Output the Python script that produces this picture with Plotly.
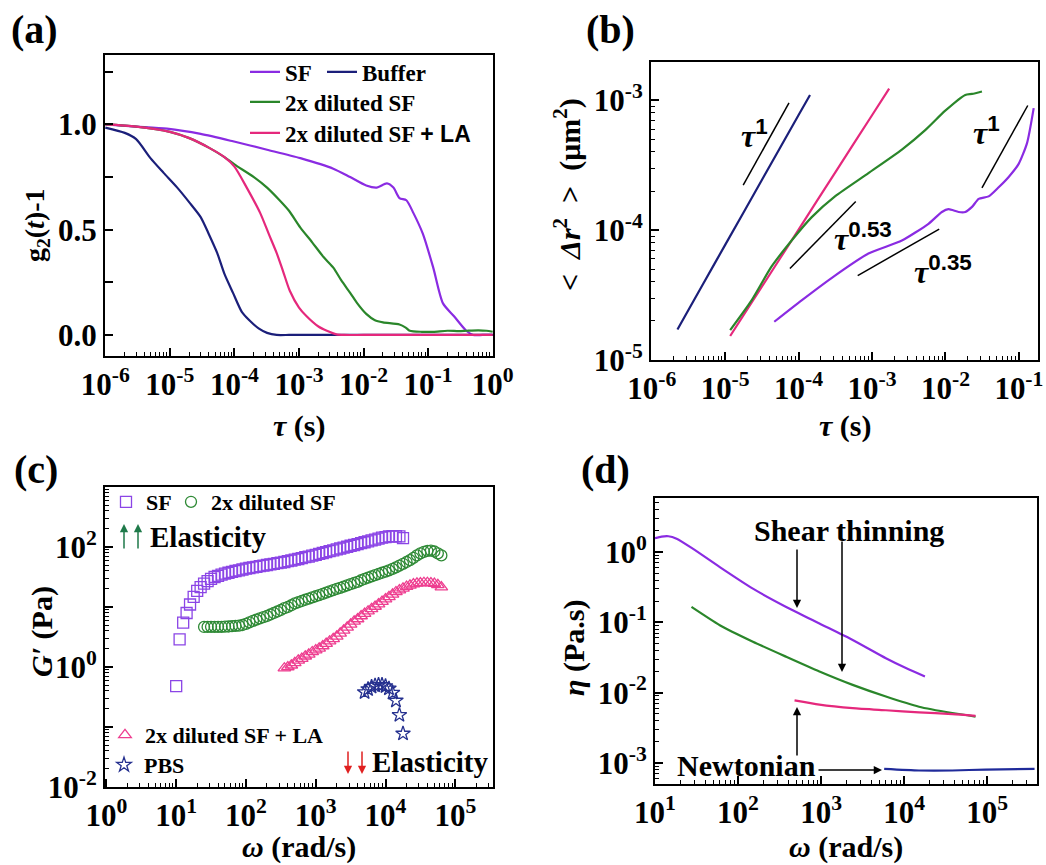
import plotly.graph_objects as go

W, H = 1046, 865
SERIF = "Liberation Serif"
SANS = "Liberation Sans"
NB = "\u00a0"


def fx(px):
    return px / W


def fy(py):
    return 1 - py / H


# ---------------- (a) intensity autocorrelation g2(t)-1 ----------------
tau_a_sf = [1e-6, 3e-6, 9e-6, 3e-5, 9.5e-5, 3.2e-4, 1.05e-3, 3.4e-3, 6.2e-3, 1.1e-2,
            1.6e-2, 2.3e-2, 2.9e-2, 3.6e-2, 4.6e-2, 5.9e-2, 8.3e-2, 0.12, 0.17, 0.25,
            0.39, 0.5, 0.7, 1.0]
g2_sf = [1.0, 0.99, 0.98, 0.955, 0.92, 0.88, 0.84, 0.79, 0.75, 0.71,
         0.70, 0.72, 0.70, 0.65, 0.64, 0.58, 0.48, 0.32, 0.15, 0.09,
         0.02, 0.0, 0.0, 0.0]

tau_a_buffer = [1e-6, 2e-6, 3e-6, 5e-6, 8e-6, 1.3e-5, 2e-5, 3e-5, 4e-5, 5.4e-5, 7e-5,
                9.5e-5, 1.3e-4, 1.7e-4, 2.4e-4, 3.2e-4, 4.5e-4, 7e-4, 1e-3, 1e-2, 1e-1, 1.0]
g2_buffer = [0.985, 0.96, 0.93, 0.84, 0.77, 0.70, 0.63, 0.56, 0.48, 0.39, 0.29,
             0.20, 0.11, 0.07, 0.03, 0.01, 0.0, 0.0, 0.0, 0.0, 0.0, 0.0]

tau_a_dil = [1e-6, 3e-6, 1e-5, 2e-5, 4e-5, 7e-5, 1e-4, 2e-4, 3.2e-4, 5e-4, 7e-4,
             1.05e-3, 1.6e-3, 2.4e-3, 3.4e-3, 4.5e-3, 6.2e-3, 8e-3, 1.1e-2, 1.5e-2,
             2e-2, 3.6e-2, 4.5e-2, 5.2e-2, 8e-2, 0.12, 0.2, 0.3, 0.4, 0.6, 0.8, 1.0]
g2_dil = [1.0, 0.99, 0.965, 0.935, 0.89, 0.845, 0.81, 0.75, 0.70, 0.64, 0.59,
          0.51, 0.44, 0.37, 0.32, 0.26, 0.20, 0.15, 0.10, 0.07,
          0.06, 0.05, 0.035, 0.02, 0.015, 0.015, 0.02, 0.018, 0.02, 0.022, 0.02, 0.015]

tau_a_la = [1e-6, 3e-6, 1e-5, 2e-5, 4e-5, 7e-5, 1e-4, 1.55e-4, 2.5e-4, 3.4e-4, 4.5e-4,
            5.7e-4, 7.2e-4, 1e-3, 1.3e-3, 2e-3, 2.7e-3, 3.8e-3, 5e-3, 1e-2, 1e-1, 1.0]
g2_la = [1.0, 0.99, 0.965, 0.935, 0.89, 0.845, 0.80, 0.70, 0.58, 0.48, 0.39,
         0.30, 0.21, 0.13, 0.09, 0.04, 0.02, 0.003, 0.0, 0.0, 0.0, 0.0]

# ---------------- (b) mean squared displacement ----------------
tau_b_buffer = [2.24e-6, 5.0e-6, 1.0e-5, 3.16e-5, 1.0e-4, 1.43e-4]
msd_buffer = [1.72e-5, 3.85e-5, 7.7e-5, 2.43e-4, 7.7e-4, 1.10e-3]

tau_b_la = [1.17e-5, 3.16e-5, 1.0e-4, 3.16e-4, 1.0e-3, 1.71e-3]
msd_la = [1.53e-5, 3.67e-5, 1.01e-4, 2.79e-4, 7.67e-4, 1.23e-3]

tau_b_dil = [1.17e-5, 2.29e-5, 4.29e-5, 8.04e-5, 1.51e-4, 3.13e-4, 8.93e-4, 2.55e-3,
             5.30e-3, 9.93e-3, 1.86e-2, 2.30e-2, 3.14e-2]
msd_dil = [1.70e-5, 2.88e-5, 5.25e-5, 8.32e-5, 1.26e-4, 1.82e-4, 2.75e-4, 4.17e-4,
           5.89e-4, 8.32e-4, 1.10e-3, 1.12e-3, 1.17e-3]

tau_b_sf = [4.66e-5, 1.10e-4, 3.13e-4, 8.93e-4, 2.55e-3, 5.87e-3, 8.93e-3, 1.10e-2,
            1.51e-2, 1.86e-2, 2.30e-2, 2.83e-2, 3.87e-2, 5.30e-2, 7.26e-2, 9.93e-2,
            0.129, 0.159]
msd_sf = [1.97e-5, 2.88e-5, 4.47e-5, 6.61e-5, 8.32e-5, 1.12e-4, 1.38e-4, 1.45e-4,
          1.38e-4, 1.38e-4, 1.51e-4, 1.74e-4, 1.82e-4, 2.14e-4, 2.57e-4, 3.24e-4,
          4.68e-4, 8.71e-4]

# power-law guide segments (tau, msd) and their exponents
guide_tau = [[1.76e-5, 7.40e-5], [7.62e-5, 6.0e-4], [6.38e-4, 8.22e-3], [3.14e-2, 0.132]]
guide_msd = [[2.22e-4, 9.55e-4], [5.07e-5, 1.66e-4], [4.47e-5, 1.02e-4], [2.12e-4, 9.12e-4]]
guide_labels = ["1", "0.53", "0.35", "1"]
guide_label_pos = [(-4.595, -3.256), (-3.117, -4.05), (-2.03, -4.31), (-1.435, -3.24)]

# ---------------- (c) storage modulus G' ----------------
omega_sweep = [10.0, 11.2, 12.6, 14.1, 15.8, 17.8, 20.0, 22.4, 25.1, 28.2,
               31.6, 35.5, 39.8, 44.7, 50.1, 56.2, 63.1, 70.8, 79.4, 89.1,
               100, 112, 126, 141, 158, 178, 200, 224, 251, 282,
               316, 355, 398, 447, 501, 562, 631, 708, 794, 891,
               1000, 1120, 1260, 1410, 1580, 1780, 2000, 2240, 2510, 2820,
               3160, 3550, 3980, 4470, 5010, 5620, 6310, 7080, 7940, 8910,
               10000, 11200, 12600, 14100, 15800, 17800, 20000, 22400, 25100, 28200,
               31600, 35500, 39800, 44700, 50100, 56200, 63100]

gp_sf = [0.48, 2.88, 5.50, 7.94, 11.0, 14.8, 18.6, 21.4, 24.5, 26.9,
         29.5, 31.6, 33.1, 34.7, 35.9, 37.2, 38.5, 39.8, 40.7, 42.2,
         43.7, 44.7, 45.7, 46.8, 47.9, 49.0, 50.1, 51.3, 52.5, 53.7,
         55.0, 56.2, 58.2, 59.6, 61.7, 63.1, 65.3, 67.6, 69.2, 71.6,
         74.1, 76.7, 79.4, 82.2, 85.1, 88.1, 91.2, 94.4, 97.7, 101,
         105, 108, 112, 116, 120, 124, 129, 133, 138, 143,
         146, 150, 151, 151, 150, 141]
gp_sf_start = 0

gp_dil = [4.65, 4.66, 4.68, 4.68, 4.68, 4.68, 4.70, 4.73, 4.79, 4.84,
          4.90, 5.01, 5.25, 5.56, 5.89, 6.17, 6.46, 6.76, 7.08, 7.50,
          7.94, 8.41, 8.91, 9.55, 10.0, 10.7, 11.5, 12.0, 12.6, 13.2,
          13.8, 14.5, 15.1, 15.8, 16.6, 17.4, 18.2, 19.1, 20.0, 20.9,
          21.9, 22.9, 24.0, 25.1, 26.3, 27.9, 29.5, 30.9, 32.4, 33.9,
          35.5, 37.2, 38.9, 40.7, 43.2, 45.7, 49.0, 52.5, 56.2, 60.3,
          66.1, 72.4, 78.5, 83.2, 86.1, 87.1, 84.1, 78.5, 72.4]
gp_dil_start = 8

gp_la = [0.955, 1.00, 1.07, 1.17, 1.29, 1.38, 1.51, 1.62, 1.78, 1.91,
         2.04, 2.24, 2.45, 2.69, 2.95, 3.24, 3.63, 4.07, 4.57, 5.13,
         5.75, 6.31, 7.08, 7.76, 8.51, 9.33, 10.2, 11.2, 12.3, 13.5,
         14.8, 16.2, 17.8, 19.1, 20.4, 21.9, 22.9, 24.0, 24.8, 25.1,
         25.4, 25.4, 25.1, 24.5, 23.4, 21.4]
gp_la_start = 31

gp_pbs = [0.380, 0.427, 0.468, 0.490, 0.501, 0.501, 0.479, 0.437, 0.372, 0.275, 0.158, 0.0776]
gp_pbs_start = 54

# ---------------- (d) complex viscosity ----------------
omega_d_sf = [10, 12.0, 14.5, 18.2, 28.8, 60.3, 151, 380, 955, 2400, 6030, 10500, 17800]
eta_sf = [1.58, 1.66, 1.68, 1.55, 1.11, 0.612, 0.302, 0.166, 0.0964, 0.0562, 0.0309, 0.0224, 0.0170]

omega_d_dil = [27.5, 60.3, 151, 380, 955, 2400, 6030, 15100, 38000, 72400]
eta_dil = [0.166, 0.0912, 0.0531, 0.0324, 0.0200, 0.0129, 0.00881, 0.00631, 0.00513, 0.00457]

omega_d_la = [479, 955, 2400, 6030, 15100, 38000, 72400]
eta_la = [0.00776, 0.00676, 0.00603, 0.00562, 0.00525, 0.00495, 0.00468]

omega_d_pbs = [5750, 15100, 38000, 95500, 372000]
eta_pbs = [0.000822, 0.000780, 0.000780, 0.000805, 0.000822]

# ---------------- colours ----------------
C_SF = "#8a2be2"
C_DIL = "#2a862a"
C_LA = "#e5287c"
C_BUF = "#1b1f7a"

fig = go.Figure()

# (a)
for name, t, g, col, leg in [
    ("SF", tau_a_sf, g2_sf, C_SF, "legend"),
    ("Buffer", tau_a_buffer, g2_buffer, C_BUF, "legend2"),
    ("2x diluted SF", tau_a_dil, g2_dil, C_DIL, "legend3"),
    ("2x diluted SF <span style='font-family:Liberation Sans'>+ LA</span>", tau_a_la, g2_la, C_LA, "legend4"),
]:
    fig.add_trace(go.Scatter(x=t, y=g, mode="lines", name=name, legend=leg,
                             line=dict(color=col, width=2.2, shape="spline", smoothing=0.7),
                             xaxis="x", yaxis="y"))

# (b)
for t, m, col in [(tau_b_buffer, msd_buffer, C_BUF), (tau_b_la, msd_la, C_LA),
                  (tau_b_dil, msd_dil, C_DIL), (tau_b_sf, msd_sf, C_SF)]:
    fig.add_trace(go.Scatter(x=t, y=m, mode="lines", showlegend=False,
                             line=dict(color=col, width=2.2, shape="spline", smoothing=0.6),
                             xaxis="x2", yaxis="y2"))
for t, m in zip(guide_tau, guide_msd):
    fig.add_trace(go.Scatter(x=t, y=m, mode="lines", showlegend=False,
                             line=dict(color="black", width=1.5), xaxis="x2", yaxis="y2"))

# (c)
for name, vals, start, col, sym, leg in [
    ("SF", gp_sf, gp_sf_start, "#8b45e6", "square-open", "legend5"),
    ("2x diluted SF", gp_dil, gp_dil_start, "#2f8a36", "circle-open", "legend6"),
    ("2x diluted SF + LA", gp_la, gp_la_start, "#ee3e90", "triangle-up-open", "legend7"),
    ("PBS", gp_pbs, gp_pbs_start, "#25308f", "star-open", "legend8"),
]:
    fig.add_trace(go.Scatter(x=omega_sweep[start:start + len(vals)], y=vals, mode="markers",
                             name=name, legend=leg,
                             marker=dict(symbol=sym, size=11, color=col, line=dict(width=1.3, color=col)),
                             xaxis="x3", yaxis="y3"))

# (d)
for w, e, col in [(omega_d_sf, eta_sf, C_SF), (omega_d_dil, eta_dil, C_DIL),
                  (omega_d_la, eta_la, C_LA), (omega_d_pbs, eta_pbs, "#1f2a9a")]:
    fig.add_trace(go.Scatter(x=w, y=e, mode="lines", showlegend=False,
                             line=dict(color=col, width=2.2, shape="spline", smoothing=0.6),
                             xaxis="x4", yaxis="y4"))

TICKFONT = dict(family=SERIF, size=31, color="black", weight="bold")
FRAME = dict(showline=True, linecolor="black", linewidth=2, mirror=True,
             ticks="inside", ticklen=8, tickwidth=1.5, tickcolor="black",
             showgrid=False, zeroline=False, tickfont=TICKFONT, automargin=False)
MINOR = dict(ticks="inside", ticklen=4, tickwidth=1, tickcolor="black", showgrid=False, dtick="D1")


def pow_labels(exps, show=None):
    out = []
    for e in exps:
        if show is None or e in show:
            out.append("10<sup>%d</sup>" % e)
        else:
            out.append("")
    return out


def log_axis(rng, exps, domain, anchor, show=None):
    return dict(type="log", range=rng, domain=domain, anchor=anchor, tickmode="array",
                tickvals=[10.0 ** e for e in exps], ticktext=pow_labels(exps, show),
                minor=MINOR, **FRAME)


dom_a = ([fx(105), fx(493)], [fy(356), fy(55)])
dom_b = ([fx(651), fx(1038)], [fy(360), fy(62)])
dom_c = ([fx(105), fx(493)], [fy(787), fy(487)])
dom_d = ([fx(655), fx(1037)], [fy(784), fy(498)])

fig.update_layout(
    xaxis=log_axis([-6.005, 0.005], list(range(-6, 1)), dom_a[0], "y"),
    yaxis=dict(range=[-0.1, 1.33], domain=dom_a[1], anchor="x", tickmode="array",
               tickvals=[0, 0.25, 0.5, 0.75, 1.0, 1.25], ticktext=["0.0", "", "0.5", "", "1.0", ""],
               **FRAME),
    xaxis2=log_axis([-6.01, -0.74], list(range(-6, 0)), dom_b[0], "y2"),
    yaxis2=log_axis([-5.0, -2.705], [-5, -4, -3], dom_b[1], "x2"),
    xaxis3=log_axis([-0.02, 5.54], list(range(0, 6)), dom_c[0], "y3"),
    yaxis3=log_axis([-2.0, 3.0], list(range(-2, 4)), dom_c[1], "x3", show=[-2, 0, 2]),
    xaxis4=log_axis([1.0, 5.6], list(range(1, 6)), dom_d[0], "y4"),
    yaxis4=log_axis([-3.3, 0.77], [-3, -2, -1, 0], dom_d[1], "x4"),
)


def legend_box(x, y, size=23):
    return dict(x=fx(x), y=fy(y), xanchor="left", yanchor="middle", bgcolor="rgba(0,0,0,0)",
                borderwidth=0, itemwidth=30, font=dict(family=SERIF, size=size, color="black", weight="bold"))


fig.update_layout(
    legend=legend_box(245, 72),
    legend2=legend_box(322, 72),
    legend3=legend_box(245, 102),
    legend4=legend_box(245, 133),
    legend5=legend_box(106, 502, 22),
    legend6=legend_box(171, 502, 22),
    legend7=legend_box(105, 735, 22),
    legend8=legend_box(104, 765, 22),
)

ann = []


def text(x, y, s, size=30, angle=0, xanchor="center", color="black", bold=True, family=SERIF):
    ann.append(dict(x=fx(x), y=fy(y), xref="paper", yref="paper", text=s, showarrow=False,
                    textangle=angle, xanchor=xanchor, yanchor="middle",
                    font=dict(family=family, size=size, color=color, weight="bold" if bold else "normal")))


def arrow(hx, hy, tx, ty, color="black", width=1.5):
    ann.append(dict(x=fx(hx), y=fy(hy), xref="paper", yref="paper", text="", showarrow=True,
                    ax=tx - hx, ay=ty - hy, arrowhead=2, arrowsize=1.1, arrowwidth=width,
                    arrowcolor=color))


# panel letters
text(34, 30, "(a)", 40)
text(610, 30, "(b)", 40)
text(36, 470, "(c)", 40)
text(605, 470, "(d)", 40)

# axis titles
text(299, 426, "<i>τ</i> (s)")
text(845, 426, "<i>τ</i> (s)")
text(299, 847, "<i>ω</i> (rad/s)")
text(846, 847, "<i>ω</i> (rad/s)")
text(37, 225, "g<sub>2</sub>(<i>t</i>)-1", 28, -90)
text(567, 195, "<" + NB + NB + "<i>Δr</i><sup>2</sup>" + NB + NB + ">" + NB + NB + "(μm<sup>2</sup>)", 30, -90)
text(42, 632, "<i>G′</i> (Pa)", 30, -90)
text(574, 648, "<i>η</i> (Pa.s)", 30, -90)

# power-law labels in (b)
for lab, (lx, ly) in zip(guide_labels, guide_label_pos):
    ann.append(dict(x=lx, y=ly, xref="x2", yref="y2", showarrow=False,
                    text="<i>τ</i><sup><span style='font-family:%s'>%s</span></sup>" % (SANS, lab),
                    font=dict(family=SERIF, size=32, color="black", weight="bold")))

# (c) elasticity notes
text(148, 537, "Elasticity", 29, xanchor="left")
arrow(124, 524, 124, 550, color="#1f7a4a")
arrow(138, 524, 138, 550, color="#1f7a4a")
text(370, 762, "Elasticity", 29, xanchor="left")
arrow(348, 774, 348, 750, color="#e02020")
arrow(362, 774, 362, 750, color="#e02020")

# (d) notes
text(849, 530, "Shear thinning", 30)
arrow(797, 608, 797, 548)
arrow(842, 672, 842, 540)
text(746, 765, "Newtonian", 30)
arrow(797, 707, 797, 757)
arrow(882, 770, 817, 770)

fig.update_layout(
    template="none",
    annotations=ann,
    width=W, height=H,
    margin=dict(l=0, r=0, t=0, b=0, pad=0, autoexpand=False),
    paper_bgcolor="white", plot_bgcolor="white",
    font=dict(family=SERIF, color="black"),
)

fig.write_html("out.html")
